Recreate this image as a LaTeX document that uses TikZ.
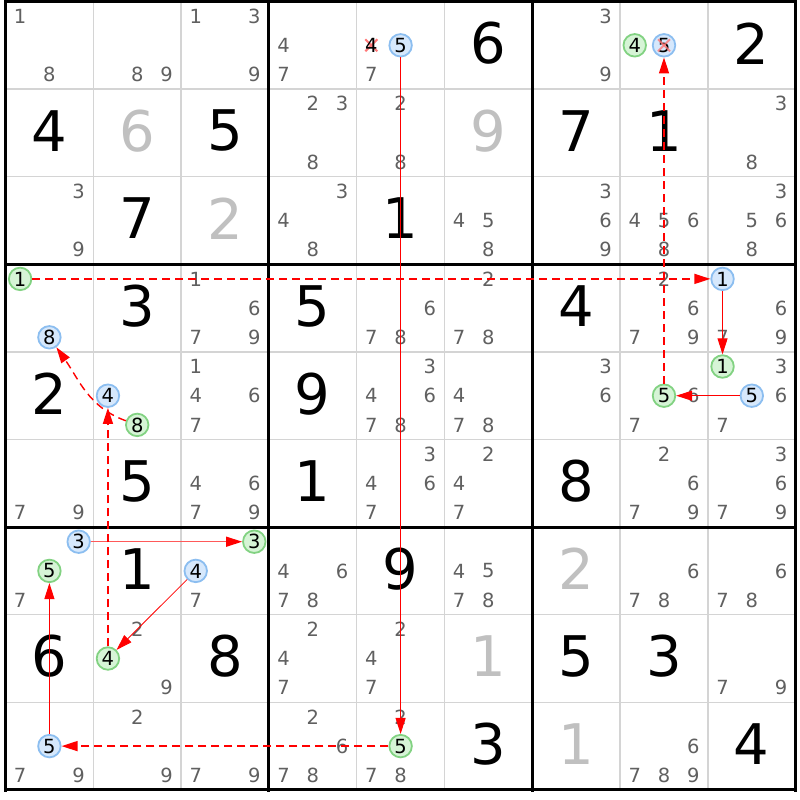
\documentclass[tikz,border=0pt]{standalone}
\usepackage{fontspec}
\setmainfont{DejaVu Sans}
\usetikzlibrary{arrows.meta}
\definecolor{candgray}{RGB}{96,96,96}
\definecolor{solvedgray}{RGB}{192,192,192}
\definecolor{thingrid}{RGB}{212,212,212}
\definecolor{bluefill}{RGB}{214,232,252}
\definecolor{blueline}{RGB}{140,190,240}
\definecolor{greenfill}{RGB}{214,244,214}
\definecolor{greenline}{RGB}{130,210,130}
\definecolor{crosspink}{RGB}{255,120,120}
\definecolor{linkred}{RGB}{255,0,0}
\newcommand\candx[2]{5.5+(#1-1)*87.8+(mod(#2-1,3)+0.5)*29.27}
\newcommand\candy[2]{1.5+(#1-1)*87.6+(floor((#2-1)/3)+0.5)*29.2}
\begin{document}
\begin{tikzpicture}[x=1pt,y=-1pt,
  cand/.style={font=\fontsize{19.5}{19.5}\selectfont, text=candgray, inner sep=0pt},
  given/.style={font=\fontsize{56}{56}\selectfont, text=black, inner sep=0pt},
  solved/.style={given, text=solvedgray},
  bluec/.style={circle, draw=blueline, fill=bluefill, line width=1.8pt, minimum size=22.5pt, inner sep=0pt, font=\fontsize{19.5}{19.5}\selectfont, text=black},
  greenc/.style={bluec, draw=greenline, fill=greenfill},
  strong/.style={draw=linkred, line width=1pt, -{Triangle[length=16pt,width=10pt]}},
  weak/.style={strong, line width=1.4pt, dash pattern=on 8pt off 5pt},
  crossx/.style={draw=crosspink, line width=2pt}
]
\fill[white] (0,0) rectangle (800,800);
\useasboundingbox (0,0) rectangle (800,800);
% grid
\foreach \i in {1,2,4,5,7,8}{
  \draw[thingrid, line width=1.5pt] ({5.5+\i*87.8},1.5) -- ({5.5+\i*87.8},790);
  \draw[thingrid, line width=1.5pt] (5.5,{1.5+\i*87.6}) -- (795.7,{1.5+\i*87.6});
}
\foreach \i in {0,3,6,9}{
  \draw[black, line width=3pt] ({5.5+\i*87.8},0) -- ({5.5+\i*87.8},791.5);
  \draw[black, line width=3pt] (4,{1.5+\i*87.6}) -- (797.2,{1.5+\i*87.6});
}
% given digits
\foreach \r/\c/\d in {1/6/6,1/9/2,2/1/4,2/3/5,2/7/7,2/8/1,3/2/7,3/5/1,4/2/3,4/4/5,4/7/4,5/1/2,5/4/9,6/2/5,6/4/1,6/7/8,7/2/1,7/5/9,8/1/6,8/3/8,8/7/5,8/8/3,9/6/3,9/9/4}
  \node[given] (v\r\c) at ({5.5+(\c-0.5)*87.8},{1.5+(\r-0.5)*87.6-2}) {\d};
% solved digits
\foreach \r/\c/\d in {2/2/6,2/6/9,3/3/2,7/7/2,8/6/1,9/7/1}
  \node[solved] (v\r\c) at ({5.5+(\c-0.5)*87.8},{1.5+(\r-0.5)*87.6-2}) {\d};
% candidates
\foreach \r/\c/\L in {1/1/{1,8},1/2/{8,9},1/3/{1,3,9},1/4/{4,7},1/5/{7},1/7/{3,9},
  2/4/{2,3,8},2/5/{2,8},2/9/{3,8},
  3/1/{3,9},3/4/{3,4,8},3/6/{4,5,8},3/7/{3,6,9},3/8/{4,5,6,8},3/9/{3,5,6,8},
  4/3/{1,6,7,9},4/5/{6,7,8},4/6/{2,7,8},4/8/{2,6,7,9},4/9/{6,7,9},
  5/3/{1,4,6,7},5/5/{3,4,6,7,8},5/6/{4,7,8},5/7/{3,6},5/8/{6,7},5/9/{3,6,7},
  6/1/{7,9},6/3/{4,6,7,9},6/5/{3,4,6,7},6/6/{2,4,7},6/8/{2,6,7,9},6/9/{3,6,7,9},
  7/1/{7},7/3/{7},7/4/{4,6,7,8},7/6/{4,5,7,8},7/8/{6,7,8},7/9/{6,7,8},
  8/2/{2,9},8/4/{2,4,7},8/5/{2,4,7},8/9/{7,9},
  9/1/{7,9},9/2/{2,9},9/3/{7,9},9/4/{2,6,7,8},9/5/{2,7,8},9/8/{6,7,8,9}}{
  \foreach \p in \L
    \node[cand] (k\r\c\p) at ({\candx{\c}{\p}},{\candy{\r}{\p}}) {\p};
}
% crossed candidate r1c5 4
\draw[crossx] ({\candx{5}{4}-6},{\candy{1}{4}-6}) -- ({\candx{5}{4}+6},{\candy{1}{4}+6});
\draw[crossx] ({\candx{5}{4}+6},{\candy{1}{4}-6}) -- ({\candx{5}{4}-6},{\candy{1}{4}+6});
\node[cand, text=black] (x154) at ({\candx{5}{4}},{\candy{1}{4}}) {4};
% highlighted candidates
\node[bluec]  (b155) at ({\candx{5}{5}},{\candy{1}{5}}) {5};
\node[greenc] (g184) at ({\candx{8}{4}},{\candy{1}{4}}) {4};
\node[bluec]  (b185) at ({\candx{8}{5}},{\candy{1}{5}}) {5};
\draw[crossx, opacity=0.8] ({\candx{8}{5}-6},{\candy{1}{5}-6}) -- ({\candx{8}{5}+6},{\candy{1}{5}+6});
\draw[crossx, opacity=0.8] ({\candx{8}{5}+6},{\candy{1}{5}-6}) -- ({\candx{8}{5}-6},{\candy{1}{5}+6});
\node[greenc] (g411) at ({\candx{1}{1}},{\candy{4}{1}}) {1};
\node[bluec]  (b418) at ({\candx{1}{8}},{\candy{4}{8}}) {8};
\node[bluec]  (b491) at ({\candx{9}{1}},{\candy{4}{1}}) {1};
\node[bluec]  (b524) at ({\candx{2}{4}},{\candy{5}{4}}) {4};
\node[greenc] (g528) at ({\candx{2}{8}},{\candy{5}{8}}) {8};
\node[greenc] (g585) at ({\candx{8}{5}},{\candy{5}{5}}) {5};
\node[greenc] (g591) at ({\candx{9}{1}},{\candy{5}{1}}) {1};
\node[bluec]  (b595) at ({\candx{9}{5}},{\candy{5}{5}}) {5};
\node[bluec]  (b713) at ({\candx{1}{3}},{\candy{7}{3}}) {3};
\node[greenc] (g715) at ({\candx{1}{5}},{\candy{7}{5}}) {5};
\node[greenc] (g733) at ({\candx{3}{3}},{\candy{7}{3}}) {3};
\node[bluec]  (b734) at ({\candx{3}{4}},{\candy{7}{4}}) {4};
\node[greenc] (g824) at ({\candx{2}{4}},{\candy{8}{4}}) {4};
\node[bluec]  (b915) at ({\candx{1}{5}},{\candy{9}{5}}) {5};
\node[greenc] (g955) at ({\candx{5}{5}},{\candy{9}{5}}) {5};
% links
\draw[strong] (b155) -- (g955);
\draw[weak] (g955) -- (b915);
\draw[strong] (b915) -- (g715);
\draw[strong, draw=red!65, line width=1.3pt, -{Triangle[length=16pt,width=10pt,color=red]}] (b713) -- (g733);
\draw[strong, line width=0.8pt] (b734) -- (g824);
\draw[weak] (g824) -- (b524);
\draw[weak] (g528) to[out=160,in=-55] (b418);
\draw[weak] (g411) -- (b491);
\draw[strong] (b491) -- (g591);
\draw[strong] (b595) -- (g585);
\draw[weak] (g585) -- (b185);
\end{tikzpicture}
\end{document}
